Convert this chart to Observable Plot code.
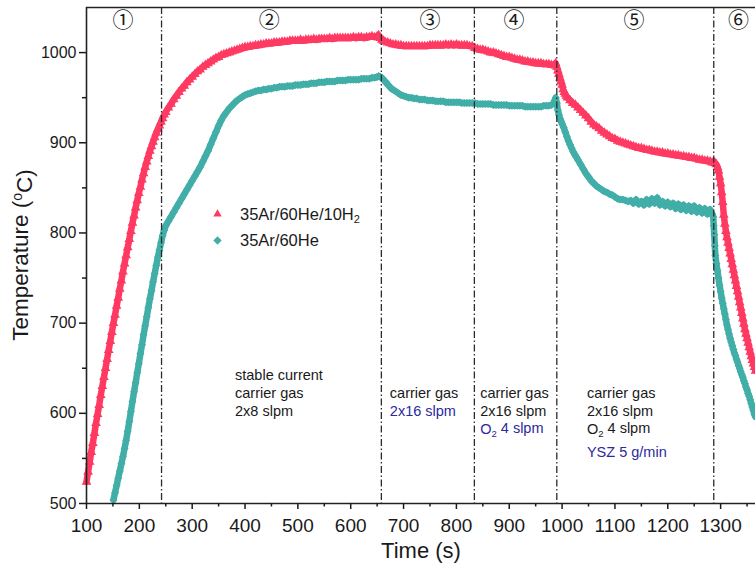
<!DOCTYPE html>
<html><head><meta charset="utf-8">
<script src="https://cdn.jsdelivr.net/npm/d3@7"></script>
<script src="https://cdn.jsdelivr.net/npm/@observablehq/plot@0.6"></script>
<style>html,body{margin:0;padding:0;background:#fff;} svg{display:block}</style>
</head><body><div id="chart"></div>
<script>
// ---- data ----
const seriesNames = ["35Ar/60He/10H\u2082", "35Ar/60He"];
const redData = [[100,524],[103,535],[106,546],[109,557],[112,567],[115,578],[118,589],[121,599],[124,609],[127,620],[130,630],[133,640],[136,650],[139,660],[142,670],[145,680],[148,690],[151,700],[154,709],[157,719],[160,728],[163,738],[166,747],[169,757],[172,766],[175,775],[178,784],[181,793],[184,802],[187,811],[190,819],[193,828],[196,836],[199,844],[202,851],[205,859],[208,866],[211,873],[214,879],[217,885],[220,891],[223,896],[226,901],[229,906],[232,911],[235,915],[238,919],[241,923],[244,927],[247,931],[250,934],
[255,939],[260,943],[265,948],[270,952],[275,956],[280,960],[285,963],[290,967],[295,970],[300,973],[305,976],[310,979],[315,981],[320,984],[325,986],[330,988],[335,990],[340,992],[345,994],[350,995],[355,997],[360,998],[365,999],[370,1000],[375,1001],[380,1002],[385,1003],[390,1004],[395,1005],[400,1006],[405,1006],[410,1007],[415,1007],[420,1008],[425,1008],[430,1009],[435,1009],[440,1010],[445,1010],[450,1010],[455,1011],[460,1011],[465,1011],[470,1012],[475,1012],[480,1012],[485,1013],[490,1013],[495,1013],[500,1013],
[505,1014],[510,1013],[515,1014],[520,1014],[525,1014],[530,1015],[535,1014],[540,1015],[545,1015],[550,1015],[555,1015],[560,1016],[565,1015],[570,1016],[575,1016],[580,1016],[585,1016],[590,1016],[595,1016],[600,1016],[605,1017],[610,1016],[615,1017],[620,1017],[625,1016],[630,1017],[635,1017],[640,1018],[645,1017],[650,1018],[653,1019],[656,1016],[659,1014],[662,1013],[665,1012],[670,1011],[675,1010],[680,1009],[685,1009],[690,1008],[695,1008],[700,1007],[705,1007],[710,1007],[715,1007],[720,1007],[725,1007],[730,1007],[735,1007],[740,1007],[745,1007],[750,1008],[755,1008],[760,1008],[765,1008],[770,1008],[775,1008],[780,1009],[785,1008],[790,1009],[795,1008],[800,1009],[805,1008],[810,1008],[815,1008],[820,1008],[825,1007],[830,1007],[835,1005],[840,1004],[845,1003],[850,1003],[855,1002],[860,1001],[865,1000],[870,1000],[875,999],[880,998],[885,997],[890,996],[895,995],[900,995],[905,994],[910,993],[915,992],[920,992],[925,991],[930,990],[935,990],[940,989],[945,989],[950,988],[955,988],[960,988],[965,987],[970,987],[975,987],[980,986],[985,986],[988,988],[990,984],[992,980],[994,976],[996,972],[998,968],[1000,964],[1002,959],[1004,956],[1006,954],[1008,952],[1010,950],[1015,947],[1020,944],[1025,942],[1030,939],[1035,936],[1040,933],[1045,930],[1050,927],[1055,923],[1060,920],[1065,918],[1070,916],[1075,913],[1080,911],[1085,909],[1090,907],[1095,905],[1100,904],[1105,902],[1110,901],[1115,900],[1120,899],[1125,898],[1130,897],[1135,896],[1140,895],[1145,894],[1150,894],[1155,893],[1160,892],[1165,892],[1170,891],[1175,890],[1180,890],[1185,889],[1190,889],[1195,888],[1200,888],[1205,887],[1210,887],[1215,886],[1220,886],[1225,885],[1230,885],[1235,884],[1240,884],[1245,883],[1250,883],[1255,882],[1260,881],[1265,881],[1270,880],[1275,880],[1280,879],[1284,878],
[1288,878],[1290,877],[1292,876],[1294,873],[1296,869],[1298,862],[1300,855],[1302,845],[1304,834],[1306,820],[1308,810],[1310,802],[1312,795],[1314,789],[1316,783],[1318,777],[1320,771],[1322,765],[1324,759],[1326,753],[1328,747],[1330,741],[1332,735],[1334,729],[1336,723],[1338,717],[1340,711],[1342,705],[1344,699],[1346,693],[1348,688],[1350,683],[1352,678],[1354,673],[1356,668],[1358,663],[1360,659],[1362,655],[1364,651],[1366,647]];

const tealData = [[151,504],[154,512],[157,520],[160,528],[163,536],[166,544],[169,552],[172,561],[175,570],[178,580],[181,591],[184,602],[187,613],[190,624],[193,634],[196,645],[199,655],[202,666],[205,676],[208,687],[211,697],[214,707],[217,717],[220,727],[223,736],[226,746],[229,755],[232,764],[235,773],[238,781],[241,789],[244,797],[247,803],[250,808],
[255,813],[260,818],[265,823],[270,828],[275,833],[280,838],[285,843],[290,848],[295,853],[300,858],[305,863],[310,868],[315,873],[320,879],[325,885],[330,891],[335,898],[340,905],[345,912],[350,919],[355,925],[360,930],[365,934],[370,938],[375,941],[380,944],[385,947],[390,949],[395,951],[400,953],[405,954],[410,955],[415,956],[420,957],[425,958],[430,958],[435,959],[440,959],[445,960],[450,960],[455,961],[460,961],[465,962],[470,962],[475,962],[480,963],[485,963],[490,963],[495,964],[500,964],[505,964],[510,965],[515,965],[520,965],[525,966],[530,966],[535,966],[540,967],[545,967],[550,967],[555,968],[560,968],[565,968],[570,968],[575,969],[580,969],[585,969],[590,969],[595,970],[600,970],[605,970],[610,970],[615,970],[620,971],[625,971],[630,971],[635,971],[640,972],[645,972],[650,973],[653,974],[656,973],[659,972],[662,970],[665,968],[668,966],[671,964],[674,962],[677,960],[680,959],[685,957],[690,955],[695,953],[700,952],[705,951],[710,950],[715,950],[720,949],[725,949],[730,948],[735,948],[740,948],[745,947],[750,947],[755,947],[760,946],[765,946],[770,946],[775,946],[780,945],[785,945],[790,945],[795,945],[800,945],[805,945],[810,944],[815,944],[820,944],[825,944],[830,944],[835,944],[840,943],[845,943],[850,943],[855,943],[860,943],[865,943],[870,942],[875,942],[880,942],[885,942],[890,942],[895,942],[900,941],[905,941],[910,941],[915,941],[920,941],[925,941],[930,940],[935,940],[940,940],[945,940],[950,940],[955,940],[960,940],[965,941],[970,941],[975,941],[980,942],[984,944],[986,947],[988,950],[990,944],[992,936],[994,931],[996,927],[998,924],[1000,921],[1003,917],[1006,912],[1009,907],[1012,902],[1015,898],[1018,894],[1021,890],[1024,887],[1027,884],[1030,881],[1035,876],[1040,871],[1045,866],[1050,862],[1055,858],[1060,855],[1065,852],[1070,850],[1075,848],[1080,846],[1085,845],[1090,843],[1095,842],[1100,840],[1105,838],[1110,837],[1115,837],[1120,836],[1125,835],[1130,836],[1135,833],[1140,837],[1145,832],[1150,835],[1155,831],[1160,837],[1165,832],[1170,838],[1175,833],[1180,839],[1185,831],[1190,835],[1195,830],[1200,834],[1205,829],[1210,833],[1215,827],[1220,832],[1225,826],[1230,831],[1235,825],[1240,830],[1245,824],[1250,830],[1255,823],[1260,828],[1265,822],[1270,827],[1275,821],[1280,826],[1284,821],[1286,818],
[1287,808],[1288,798],[1289,786],[1290,775],[1292,766],[1294,758],[1296,750],[1298,742],[1300,735],[1302,728],[1304,722],[1306,716],[1308,710],[1310,704],[1312,698],[1314,693],[1316,688],[1318,683],[1320,679],[1322,675],[1324,671],[1326,667],[1328,664],[1330,660],[1332,657],[1334,653],[1336,650],[1338,646],[1340,643],[1342,640],[1344,636],[1346,633],[1348,629],[1350,626],[1352,622],[1354,619],[1356,615],[1358,611],[1360,607],[1362,603],[1364,599],[1366,596]];

const phaseBoundaries = [242, 658, 834, 990, 1287];
const phaseLabels = ["\u2460","\u2461","\u2462","\u2463","\u2464","\u2465"];
const phaseLabelTimes = [169, 446, 750, 909, 1136, 1334];
const xMajor = [100,200,300,400,500,600,700,800,900,1000,1100,1200,1300];
const xMinor = [150,250,350,450,550,650,750,850,950,1050,1150,1250,1350];
const yMajor = [500,600,700,800,900,1000];
const yMinor = [550,650,750,850,950];

// annotation lines: [block index, temperature level, text, highlighted]
const noteTimes = [382, 675, 846, 1048];
const noteLines = [
  [0, 642, "stable current", false],
  [0, 622, "carrier gas", false],
  [0, 602, "2x8 slpm", false],
  [1, 622, "carrier gas", false],
  [1, 602, "2x16 slpm", true],
  [2, 622, "carrier gas", false],
  [2, 602, "2x16 slpm", false],
  [2, 582, "O\u2082 4 slpm", true],
  [3, 622, "carrier gas", false],
  [3, 602, "2x16 slpm", false],
  [3, 582, "O\u2082 4 slpm", false],
  [3, 557, "YSZ 5 g/min", true]
];

// ---- styles ----
const RED = "#ff3a62";
const TEAL = "#41aea8";
const BLUE = "#2a2a9e";
const INK = "#1a1a1a";
const FONT = "'Liberation Sans', Arial, Helvetica, sans-serif";

const plot = Plot.plot({
  width: 755,
  height: 568,
  marginTop: 7,
  marginRight: 0,
  marginBottom: 65,
  marginLeft: 86,
  style: {fontFamily: FONT, background: "#fff", color: INK, overflow: "visible"},
  x: {domain: [100, 1366]},
  y: {domain: [500, 1050]},
  marks: [
    Plot.line(tealData, {x: d => d[0], y: d => d[1], stroke: TEAL, strokeWidth: 6.5}),
    Plot.dot(tealData, {x: d => d[0], y: d => d[1], symbol: "diamond2", r: 3.6, fill: TEAL}),
    Plot.line(redData, {x: d => d[0], y: d => d[1], stroke: RED, strokeWidth: 6.5}),
    Plot.dot(redData, {x: d => d[0], y: d => d[1], symbol: "triangle", r: 3.6, fill: RED}),
    Plot.ruleX(phaseBoundaries, {stroke: "#2b2b2b", strokeWidth: 1.3, strokeDasharray: "7,2.5,1.5,2.5"}),
    Plot.ruleY([500, 1050], {stroke: "#222", strokeWidth: 1.6}),
    Plot.ruleX([100], {stroke: "#222", strokeWidth: 1.6}),
    Plot.axisX({ticks: xMajor, tickSize: 6, tickPadding: 9, fontSize: 19, strokeWidth: 1.5, tickFormat: d => String(d), label: null}),
    Plot.axisX({ticks: xMinor, tickSize: 3.5, strokeWidth: 1.5, tickFormat: () => "", label: null}),
    Plot.axisY({ticks: yMajor, tickSize: 7, tickPadding: 3, fontSize: 16, strokeWidth: 1.5, tickFormat: d => String(d), label: null}),
    Plot.axisY({ticks: yMinor, tickSize: 4, strokeWidth: 1.5, tickFormat: () => "", label: null}),
    Plot.text(phaseLabels, {x: (d, i) => phaseLabelTimes[i], y: 1036, text: d => d, fontSize: 21, fontFamily: "'Noto Sans CJK SC', 'DejaVu Sans', sans-serif", fill: INK})
  ]
});

document.getElementById("chart").appendChild(plot);
const svg = d3.select(plot);
const sx = plot.scale("x"), sy = plot.scale("y");

// text with subscript 2 helper
function addRich(g, str, subSize) {
  const parts = str.split("\u2082");
  g.append("tspan").text(parts[0]);
  for (let i = 1; i < parts.length; i++) {
    g.append("tspan").attr("font-size", subSize).attr("dy", "0.3em").text("2");
    g.append("tspan").attr("dy", "-0.3em").text(parts[i]);
  }
}

// annotations
noteLines.forEach(([k, T, txt, hi]) => {
  const t = svg.append("text")
    .attr("x", sx.apply(noteTimes[k]))
    .attr("y", sy.apply(T))
    .attr("dy", "0.35em")
    .attr("text-anchor", "start")
    .attr("font-family", FONT)
    .attr("font-size", 14.5)
    .attr("fill", hi ? BLUE : INK);
  addRich(t, txt, 9.5);
});

// legend
const lg = svg.append("g").attr("font-family", FONT).attr("font-size", 16.5).attr("fill", INK).attr("text-anchor", "start");
const legY = [214, 240.5];
lg.append("path").attr("d", d3.symbol(d3.symbolTriangle, 30)()).attr("transform", `translate(217.5,${legY[0]})`).attr("fill", RED);
lg.append("path").attr("d", "M0,-4.2 L4.2,0 L0,4.2 L-4.2,0Z").attr("transform", `translate(217.5,${legY[1]})`).attr("fill", TEAL);
seriesNames.forEach((name, i) => {
  const t = lg.append("text").attr("x", 240).attr("y", legY[i]).attr("dy", "0.35em");
  addRich(t, name, 11);
});

// axis titles
svg.append("text")
  .attr("x", 421).attr("y", 550).attr("dy", "0.35em")
  .attr("text-anchor", "middle").attr("font-family", FONT).attr("font-size", 22).attr("fill", INK)
  .text("Time (s)");
const yt = svg.append("text")
  .attr("transform", "translate(20,255) rotate(-90)")
  .attr("dy", "0.35em")
  .attr("text-anchor", "middle").attr("font-family", FONT).attr("font-size", 22.5).attr("fill", INK);
yt.append("tspan").text("Temperature (");
yt.append("tspan").attr("font-size", 14).attr("dy", "-0.45em").text("o");
yt.append("tspan").attr("dy", "0.45em").text("C)");
</script>
</body></html>
